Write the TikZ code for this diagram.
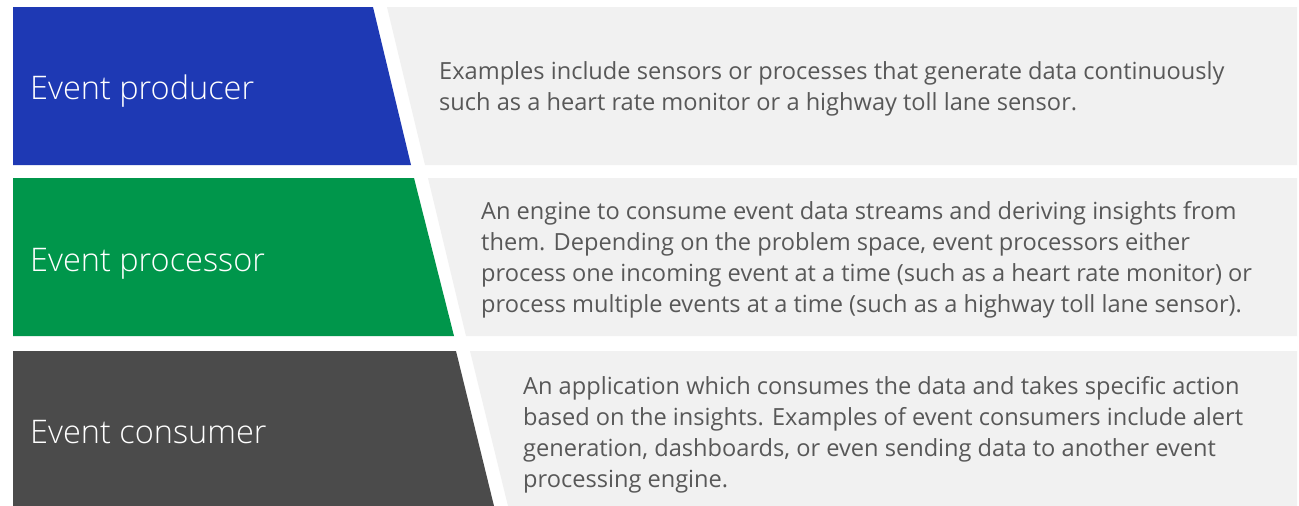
\documentclass[tikz,border=0pt]{standalone}
\usepackage{fontspec}
\setmainfont{Open Sans}
\newfontfamily\titlefont{Open Sans Light}
\definecolor{prodblue}{HTML}{1E39B4}
\definecolor{procgreen}{HTML}{00964B}
\definecolor{consgray}{HTML}{4B4B4B}
\definecolor{panelgray}{HTML}{F1F1F1}
\definecolor{bodytext}{HTML}{585858}
\tikzset{
  titletext/.style={anchor=base west, inner sep=0pt, text=white, font=\titlefont\fontsize{32.5}{38}\selectfont},
  bodytxt/.style={anchor=base west, inner sep=0pt, align=left, text=bodytext, font=\fontsize{23.6}{30.7}\selectfont},
  panel/.style={fill=panelgray, draw=none}
}
\begin{document}
\begin{tikzpicture}[x=1pt,y=-1pt]
\useasboundingbox (0,0) rectangle (1299,506);
\fill[white] (0,0) rectangle (1299,506);
% row 1
\fill[prodblue] (13,7) -- (373,7) -- (411,165) -- (13,165) -- cycle;
\fill[panelgray] (387,7) -- (1297,7) -- (1297,165) -- (425,165) -- cycle;
% row 2
\fill[procgreen] (13,178) -- (414,178) -- (454,336) -- (13,336) -- cycle;
\fill[panelgray] (428,178) -- (1297,178) -- (1297,336) -- (466,336) -- cycle;
% row 3
\fill[consgray] (13,351) -- (456,351) -- (494,506) -- (13,506) -- cycle;
\fill[panelgray] (470,351) -- (1297,351) -- (1297,506) -- (508,506) -- cycle;
% titles
\node[titletext] (t1) at (30,99) {Event producer};
\node[titletext] (t2) at (30,271) {Event processor};
\node[titletext] (t3) at (30,443) {Event consumer};
% bodies (anchor = baseline of last line)
\node[bodytxt] (b1) at (439,110) {Examples include sensors or processes that generate data continuously\\such as a heart rate monitor or a highway toll lane sensor.};
\node[bodytxt] (b2) at (481,312) {An engine to consume event data streams and deriving insights from\\them. Depending on the problem space, event processors either\\process one incoming event at a time (such as a heart rate monitor) or\\process multiple events at a time (such as a highway toll lane sensor).};
\node[bodytxt] (b3) at (523,487) {An application which consumes the data and takes specific action\\based on the insights. Examples of event consumers include alert\\generation, dashboards, or even sending data to another event\\processing engine.};
\end{tikzpicture}
\end{document}
